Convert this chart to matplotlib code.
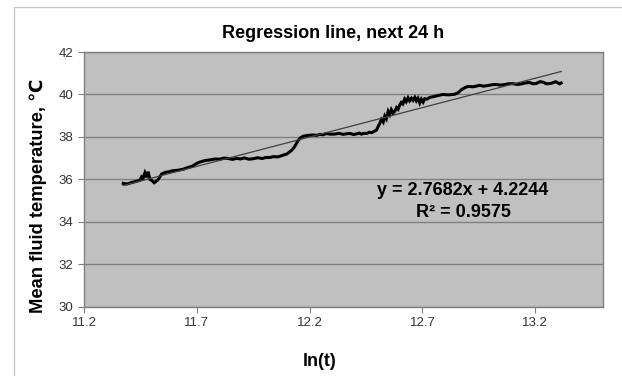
import matplotlib
matplotlib.use('Agg')
import matplotlib.pyplot as plt
from matplotlib.patches import Rectangle

plt.rcParams['font.family'] = ['Liberation Sans', 'DejaVu Sans']

ln_t = [11.374, 11.39, 11.411, 11.43, 11.448, 11.455, 11.462, 11.47, 11.477, 11.484,
        11.492, 11.5, 11.511, 11.526, 11.535, 11.544, 11.56, 11.573, 11.59, 11.617,
        11.64, 11.661, 11.68, 11.699, 11.715, 11.735, 11.76, 11.78, 11.802, 11.82,
        11.84, 11.858, 11.876, 11.893, 11.91, 11.93, 11.949, 11.97, 11.99, 12.005,
        12.023, 12.04, 12.06, 12.082, 12.1, 12.112, 12.125, 12.134, 12.149,
        12.16, 12.171, 12.19, 12.215, 12.23, 12.245, 12.26, 12.274, 12.29, 12.31,
        12.33, 12.348, 12.365, 12.38, 12.395, 12.407, 12.42, 12.43, 12.44, 12.452,
        12.465, 12.475, 12.485, 12.496, 12.503, 12.51, 12.518, 12.526, 12.533, 12.54,
        12.548, 12.555, 12.562, 12.57, 12.577, 12.585, 12.592, 12.599, 12.606, 12.613,
        12.621, 12.628, 12.636, 12.643, 12.651, 12.658, 12.666, 12.673, 12.68, 12.688,
        12.695, 12.703, 12.71, 12.72, 12.732, 12.75, 12.769, 12.791, 12.815, 12.843,
        12.858, 12.872, 12.888, 12.902, 12.925, 12.953, 12.97, 12.99, 13.01, 13.027,
        13.045, 13.06, 13.08, 13.1, 13.12, 13.14, 13.16, 13.175, 13.19, 13.205,
        13.22, 13.234, 13.25, 13.27, 13.29, 13.308, 13.315]
temp = [35.81, 35.78, 35.85, 35.9, 35.96, 36.12, 36.05, 36.3, 36.1, 36.36,
        36.0, 35.95, 35.84, 35.96, 36.1, 36.25, 36.33, 36.35, 36.4, 36.43,
        36.48, 36.56, 36.62, 36.75, 36.82, 36.88, 36.92, 36.96, 36.95, 37.0,
        36.98, 36.94, 36.99, 36.96, 37.01, 36.95, 36.97, 37.02, 36.98, 37.03,
        37.03, 37.07, 37.06, 37.14, 37.2, 37.3, 37.42, 37.55, 37.83,
        37.96, 38.03, 38.07, 38.09, 38.07, 38.12, 38.1, 38.16, 38.13, 38.13,
        38.17, 38.12, 38.15, 38.16, 38.11, 38.14, 38.18, 38.13, 38.17, 38.16,
        38.22, 38.2, 38.26, 38.32, 38.48, 38.62, 38.82, 38.7, 38.98, 38.85,
        39.2, 39.05, 39.28, 39.12, 39.2, 39.38, 39.3, 39.5, 39.62, 39.55,
        39.78, 39.66, 39.84, 39.7, 39.82, 39.72, 39.86, 39.7, 39.82, 39.6,
        39.78, 39.64, 39.8, 39.78, 39.86, 39.9, 39.95, 40.0, 39.98, 40.01,
        40.08, 40.22, 40.32, 40.38, 40.36, 40.43, 40.39, 40.42, 40.46, 40.47,
        40.44, 40.46, 40.5, 40.51, 40.47, 40.5, 40.55, 40.56, 40.5, 40.52,
        40.6, 40.58, 40.5, 40.52, 40.6, 40.5, 40.54]

# Excel linear trendline reported on the chart
slope, intercept = 2.7682, 4.2244
r2 = 0.9575

xticks = [11.2, 11.7, 12.2, 12.7, 13.2]
yticks = [30, 32, 34, 36, 38, 40, 42]

fig = plt.figure(figsize=(6.22, 3.76), dpi=100)
fig.patch.set_facecolor('white')
# chart border (light gray, runs off right/bottom)
fig.patches.append(Rectangle((14 / 622, -0.05), 1.0, 1.05 - 7.5 / 376, transform=fig.transFigure,
                             fill=False, edgecolor='#c8c8c8', linewidth=1.0))

ax = fig.add_axes([84 / 622, (376 - 306.7) / 376, (603 - 84) / 622, (306.7 - 52) / 376])
ax.set_facecolor('#c0c0c0')
ax.set_xlim(11.2, 13.5)
ax.set_ylim(30, 42)
ax.set_xticks(xticks)
ax.set_yticks(yticks)
ax.set_xticklabels([str(v) for v in xticks])
ax.set_yticklabels([str(v) for v in yticks])
ax.tick_params(direction='out', length=4, width=0.8, color='#808080', labelsize=9.5,
               labelcolor='#333333')
for s in ax.spines.values():
    s.set_color('#808080')
    s.set_linewidth(1.0)
ax.grid(axis='y', color='#808080', linewidth=1.0)
ax.set_axisbelow(True)

ax.plot(ln_t, temp, color='black', linewidth=2.2, solid_joinstyle='miter')
tx = [ln_t[0], ln_t[-1]]
ax.plot(tx, [slope * v + intercept for v in tx], color='#404040', linewidth=0.9)

ax.text(12.878, 35.49, 'y = %.4fx + %.4f' % (slope, intercept), ha='center', va='center',
        fontsize=13, fontweight='bold')
ax.text(12.882, 34.46, 'R² = %.4f' % r2, ha='center', va='center',
        fontsize=13, fontweight='bold')

fig.text(333 / 622, 1 - 33 / 376, 'Regression line, next 24 h', ha='center', va='center',
         fontsize=13, fontweight='bold')
fig.text(320 / 622, 1 - 361 / 376, 'ln(t)', ha='center', va='center',
         fontsize=13, fontweight='bold')
fig.text(38 / 622, 1 - 196 / 376, 'Mean fluid temperature, ℃', ha='center', va='center',
         rotation=90, fontsize=13.2, fontweight='bold')

fig.savefig('out.png', dpi=100)
